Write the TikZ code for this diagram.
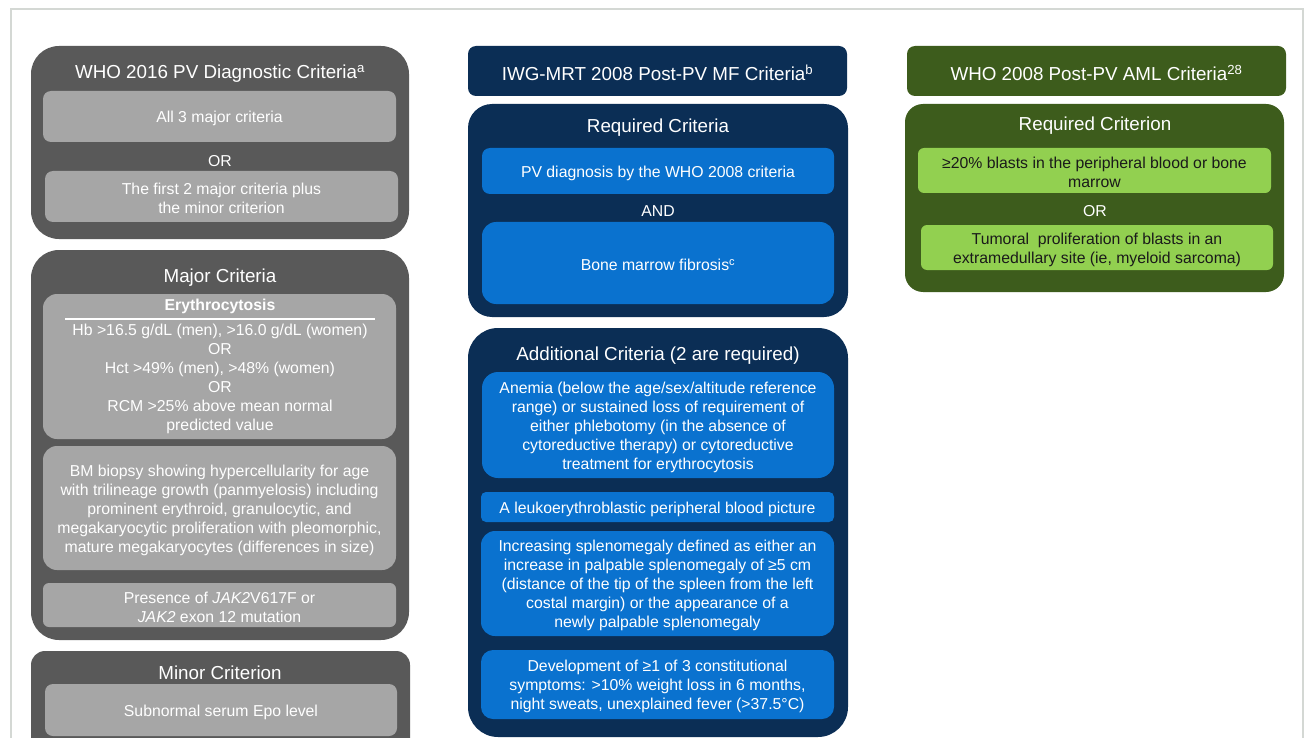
\documentclass[tikz,border=0pt]{standalone}
\usepackage{fontspec}
\setmainfont{Liberation Sans}
\usetikzlibrary{fit}
\definecolor{dgray}{HTML}{595959}
\definecolor{lgray}{HTML}{A6A6A6}
\definecolor{navy}{HTML}{0B2E55}
\definecolor{mblue}{HTML}{0A72CF}
\definecolor{dgreen}{HTML}{3D5C1C}
\definecolor{lgreen}{HTML}{92D050}
\definecolor{framec}{HTML}{D4D8D4}
\definecolor{darktext}{HTML}{1A1A1A}
\tikzset{
  panel/.style={fill=#1, draw=none, inner sep=0pt},
  title/.style={text=white, font=\fontsize{18.8}{22}\selectfont, inner sep=0pt, yshift=-2pt},
  body/.style={text=white, font=\fontsize{15.8}{19}\selectfont, align=center, inner sep=0pt, yshift=-2pt},
  gbody/.style={body, text=darktext},
}
\begin{document}
\begin{tikzpicture}[x=1pt,y=-1pt]
\useasboundingbox (0,0) rectangle (1306,738);
\fill[white] (0,0) rectangle (1306,738);
\draw[framec, line width=2pt] (11,738) -- (11,9) -- (1303,9) -- (1303,738);

% ---------------- Left column ----------------
\node[panel=dgray, rounded corners=28pt, fit={(31,46)(409,239)}] (whobox) {};
\node[title] (whotitle) at (220,72) {WHO 2016 PV Diagnostic Criteria\textsuperscript{a}};
\node[panel=lgray, rounded corners=8pt, fit={(43,91)(396,142)}] (all3box) {};
\node[body] (all3) at (all3box.center) {All 3 major criteria};
\node[body] (or1) at (220,159) {OR};
\node[panel=lgray, rounded corners=8pt, fit={(45,171)(398,222)}] (firstbox) {};
\node[body] (first2) at (firstbox.center) {The first 2 major criteria plus\\the minor criterion};

\node[panel=dgray, rounded corners=28pt, fit={(31,250)(409,640)}] (majbox) {};
\node[title] (majtitle) at (220,276) {Major Criteria};
\node[panel=lgray, rounded corners=14pt, fit={(43,294)(396,439)}] (erybox) {};
\node[body, font=\fontsize{15.8}{19}\selectfont\bfseries] (eryhead) at (220,304) {Erythrocytosis};
\coordinate (ruleL) at (65,319);
\coordinate (ruleR) at (375,319);
\draw[white, line width=1.5pt] (ruleL) -- (ruleR);
\node[body] (erytext) at (220,377) {Hb >16.5 g/dL (men), >16.0 g/dL (women)\\OR\\Hct >49\% (men), >48\% (women)\\OR\\RCM >25\% above mean normal\\predicted value};
\node[panel=lgray, rounded corners=14pt, fit={(43,446)(396,570)}] (bmbox) {};
\node[body] (bmtext) at (bmbox.center) {BM biopsy showing hypercellularity for age\\with trilineage growth (panmyelosis) including\\prominent erythroid, granulocytic, and\\megakaryocytic proliferation with pleomorphic,\\mature megakaryocytes (differences in size)};
\node[panel=lgray, rounded corners=6pt, fit={(43,583)(396,627)}] (jakbox) {};
\node[body] (jaktext) at (jakbox.center) {Presence of \textit{JAK2}V617F or\\\textit{JAK2} exon 12 mutation};

\node[panel=dgray, rounded corners=14pt, fit={(31,651)(410,760)}] (minbox) {};
\node[title] (mintitle) at (220,671) {Minor Criterion};
\node[panel=lgray, rounded corners=8pt, fit={(45,684)(397,736)}] (epobox) {};
\node[body] (epo) at (epobox.center) {Subnormal serum Epo level};

% ---------------- Middle column ----------------
\node[panel=navy, rounded corners=8pt, fit={(468,46)(847,96)}] (iwgbox) {};
\node[title] (iwgtitle) at (iwgbox.center) {IWG-MRT 2008 Post-PV MF Criteria\textsuperscript{b}};
\node[panel=navy, rounded corners=24pt, fit={(468,104)(848,317)}] (reqbox) {};
\node[title] (reqtitle) at (658,126) {Required Criteria};
\node[panel=mblue, rounded corners=8pt, fit={(482,148)(834,194)}] (pvbox) {};
\node[body] (pv) at (pvbox.center) {PV diagnosis by the WHO 2008 criteria};
\node[body] (and) at (658,209) {AND};
\node[panel=mblue, rounded corners=14pt, fit={(482,222)(834,304)}] (bmfbox) {};
\node[body] (bmf) at (bmfbox.center) {Bone marrow fibrosis\textsuperscript{c}};

\node[panel=navy, rounded corners=30pt, fit={(468,328)(848,737)}] (addbox) {};
\node[title] (addtitle) at (658,354) {Additional Criteria (2 are required)};
\node[panel=mblue, rounded corners=16pt, fit={(482,372)(834,478)}] (anbox) {};
\node[body] (an) at (anbox.center) {Anemia (below the age/sex/altitude reference\\range) or sustained loss of requirement of\\either phlebotomy (in the absence of\\cytoreductive therapy) or cytoreductive\\treatment for erythrocytosis};
\node[panel=mblue, rounded corners=5pt, fit={(481,492)(834,522)}] (leubox) {};
\node[body] (leu) at (leubox.center) {A leukoerythroblastic peripheral blood picture};
\node[panel=mblue, rounded corners=14pt, fit={(481,531)(834,636)}] (splbox) {};
\node[body] (spl) at (splbox.center) {Increasing splenomegaly defined as either an\\increase in palpable splenomegaly of ≥5 cm\\(distance of the tip of the spleen from the left\\costal margin) or the appearance of a\\newly palpable splenomegaly};
\node[panel=mblue, rounded corners=12pt, fit={(481,650)(834,719)}] (devbox) {};
\node[body] (dev) at (devbox.center) {Development of ≥1 of 3 constitutional\\symptoms: >10\% weight loss in 6 months,\\night sweats, unexplained fever (>37.5°C)};

% ---------------- Right column ----------------
\node[panel=dgreen, rounded corners=8pt, fit={(907,46)(1286,96)}] (whobox2) {};
\node[title] (whotitle2) at (whobox2.center) {WHO 2008 Post-PV AML Criteria\textsuperscript{28}};
\node[panel=dgreen, rounded corners=18pt, fit={(905,104)(1284,292)}] (amlbox) {};
\node[title] (amltitle) at (1095,124) {Required Criterion};
\node[panel=lgreen, rounded corners=6pt, fit={(918,148)(1271,193)}] (b20box) {};
\node[gbody] (b20) at (b20box.center) {≥20\% blasts in the peripheral blood or bone\\marrow};
\node[body] (or2) at (1095,209) {OR};
\node[panel=lgreen, rounded corners=6pt, fit={(921,225)(1273,270)}] (tumbox) {};
\node[gbody] (tum) at (tumbox.center) {Tumoral\ \ proliferation of blasts in an\\extramedullary site (ie, myeloid sarcoma)};
\end{tikzpicture}
\end{document}
